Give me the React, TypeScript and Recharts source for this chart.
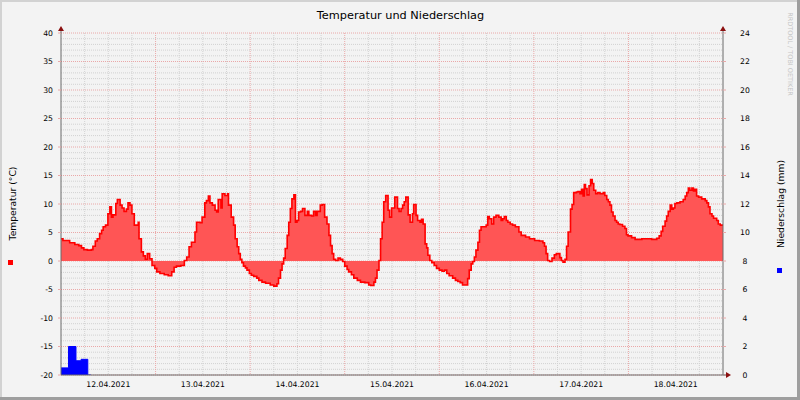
import React from 'react';
import { ComposedChart, Area, XAxis, YAxis, CartesianGrid } from 'recharts';

// ---- data (hours since 12.04.2021 00:00) ----
const dayTickHours = [12, 36, 60, 84, 108, 132, 156];
const dayLabels = ['12.04.2021', '13.04.2021', '14.04.2021', '15.04.2021', '16.04.2021', '17.04.2021', '18.04.2021'];
const tempTicks = [-20, -15, -10, -5, 0, 5, 10, 15, 20, 25, 30, 35, 40];
const rainTicks = [0, 2, 4, 6, 8, 10, 12, 14, 16, 18, 20, 22, 24];
const tempMinorGrid = [-19, -18, -17, -16, -14, -13, -12, -11, -9, -8, -7, -6, -4, -3, -2, -1, 1, 2, 3, 4, 6, 7, 8, 9, 11, 12, 13, 14, 16, 17, 18, 19, 21, 22, 23, 24, 26, 27, 28, 29, 31, 32, 33, 34, 36, 37, 38, 39];
const hourMinorGrid = [6, 12, 18, 30, 36, 42, 54, 60, 66, 78, 84, 90, 102, 108, 114, 126, 132, 138, 150, 156, 162];
const hourMajorGrid = [24, 48, 72, 96, 120, 144];

const tempHours = [
  0, 0.5, 2.2, 3.5, 4.5, 5.2, 5.8, 6.7, 7.7, 8.1, 8.7, 9.2, 9.8, 10.3, 10.7, 11.3, 11.9, 12.4, 12.8, 13.2,
  13.9, 14.3, 15.0, 15.5, 16.0, 16.6, 17.0, 17.5, 18.0, 18.6, 19.6, 19.8, 20.4, 20.9, 21.4, 21.9, 22.5, 23.1, 23.8, 24.3,
  25.1, 26.2, 27.2, 28.1, 28.7, 29.3, 30.4, 31.3, 31.9, 32.5, 33.1, 34.0, 34.4, 35.3, 35.8, 36.5, 36.9, 37.4, 37.8, 38.4,
  39.1, 39.5, 39.9, 40.6, 40.9, 41.6, 42.3, 42.5, 43.2, 43.8, 44.2, 44.7, 45.1, 45.5, 45.9, 46.3, 46.8, 47.2, 47.8, 48.3,
  48.9, 49.7, 50.2, 51.0, 51.9, 53.1, 54.0, 54.8, 55.2, 55.7, 56.1, 56.5, 56.9, 57.4, 57.8, 58.2, 58.6, 59.1, 59.5, 59.9,
  60.3, 60.8, 61.3, 61.9, 62.5, 62.9, 63.6, 64.1, 64.6, 65.0, 65.8, 66.3, 66.9, 67.5, 68.0, 68.4, 68.8, 69.2, 69.7, 70.3,
  70.9, 71.5, 72.0, 72.6, 73.0, 73.7, 74.3, 75.2, 76.0, 77.1, 78.1, 78.6, 79.4, 79.8, 80.2, 80.7, 81.1, 81.5, 81.9, 82.4,
  83.0, 83.4, 83.9, 84.7, 85.4, 85.8, 86.3, 86.7, 87.1, 87.5, 88.1, 88.6, 89.2, 89.5, 90.1, 90.5, 91.1, 91.5, 91.9, 92.4,
  92.8, 93.1, 93.6, 94.1, 94.7, 95.3, 96.0, 96.7, 97.3, 97.9, 98.5, 99.4, 100.1, 100.7, 101.3, 101.9, 103.2, 103.6, 104.1, 104.5,
  104.9, 105.3, 105.8, 106.2, 106.6, 107.9, 108.3, 108.7, 109.3, 109.8, 110.4, 111.1, 111.7, 112.1, 112.5, 113.0, 113.4, 114.0, 114.6, 115.3,
  116.2, 116.8, 117.9, 118.9, 120.2, 121.4, 122.3, 122.7, 123.1, 123.5, 124.0, 124.6, 125.2, 125.7, 126.6, 127.0, 127.4, 127.9, 128.3, 128.7,
  129.3, 129.7, 130.1, 130.8, 131.2, 131.7, 132.1, 132.5, 132.8, 133.1, 133.5, 134.0, 134.4, 134.8, 135.2, 135.7, 136.2, 136.8, 137.6, 138.0,
  138.5, 138.9, 139.3, 139.7, 140.1, 140.6, 141.0, 141.4, 141.8, 142.5, 143.1, 143.5, 143.9, 144.8, 145.7, 147.4, 149.9, 151.2, 151.8, 152.3,
  152.7, 153.3, 153.7, 154.1, 154.6, 155.0, 155.4, 155.8, 156.3, 157.1, 157.9, 158.4, 158.8, 159.2, 159.6, 160.1, 160.5, 160.9, 161.3, 161.8,
  162.6, 163.5, 163.9, 164.3, 164.7, 165.2, 165.6, 166.4, 166.8, 167.3, 168,
];
const tempValues = [
  3.9, 3.6, 3.2, 2.9, 2.7, 2.3, 2.0, 1.9, 2.0, 2.6, 3.5, 3.9, 4.8, 5.4, 6.0, 6.3, 8.3, 9.5, 7.7, 8.1,
  10.1, 10.8, 9.8, 9.3, 8.7, 9.1, 10.2, 9.8, 8.3, 6.3, 6.8, 3.9, 1.6, 0.9, 0.3, 1.3, 0.4, -0.8, -1.3, -1.9,
  -2.2, -2.4, -2.6, -1.9, -1.1, -0.9, -0.8, 0.1, 0.7, 2.5, 3.3, 5.1, 6.8, 6.7, 7.7, 10.2, 10.6, 11.4, 10.2, 9.8,
  8.9, 8.6, 10.8, 9.3, 11.8, 11.5, 11.8, 9.8, 7.7, 6.3, 3.9, 2.5, 1.3, 0.3, -0.3, -0.9, -1.2, -1.6, -2.2, -2.5,
  -2.7, -3.0, -3.4, -3.7, -3.9, -4.2, -4.4, -4.0, -3.0, -1.6, -0.5, 0.5, 2.2, 4.5, 6.8, 9.2, 10.9, 11.6, 6.8, 7.1,
  8.6, 8.7, 9.2, 8.0, 8.7, 8.0, 7.9, 8.7, 8.0, 8.7, 9.8, 9.9, 7.7, 6.5, 4.5, 2.7, 1.3, 0.3, 0.1, 0.5,
  0.3, -0.1, -0.9, -1.5, -1.9, -2.4, -3.0, -3.4, -3.7, -3.8, -4.2, -4.3, -3.7, -3.0, -1.6, 0.1, 3.9, 6.8, 10.4, 11.5,
  8.9, 7.7, 9.3, 11.2, 9.2, 8.7, 9.2, 9.8, 10.4, 11.2, 8.1, 6.8, 8.3, 9.9, 8.0, 7.1, 6.8, 7.3, 6.5, 3.0,
  2.3, 1.0, 0.1, -0.3, -0.8, -1.3, -1.6, -1.8, -1.6, -2.2, -2.6, -3.0, -3.4, -3.6, -3.8, -4.2, -3.1, -1.6, -0.5, -0.1,
  0.7, 1.9, 3.3, 5.4, 6.0, 6.3, 7.8, 7.4, 6.5, 7.7, 8.0, 7.7, 7.1, 7.4, 7.8, 7.1, 6.8, 6.5, 6.3, 6.0,
  5.1, 4.5, 4.2, 3.9, 3.6, 3.5, 3.2, 2.6, 1.3, 0.1, -0.1, 0.5, 1.1, 1.3, 0.6, 0.1, -0.2, 0.3, 2.6, 5.1,
  9.1, 9.9, 12.0, 12.1, 12.2, 11.8, 12.6, 11.4, 13.4, 12.7, 11.6, 13.2, 14.3, 13.6, 12.4, 11.8, 12.0, 11.8, 12.0, 11.5,
  10.8, 10.4, 9.8, 8.6, 7.9, 7.1, 6.8, 6.5, 6.4, 6.1, 5.7, 4.6, 4.4, 4.1, 3.8, 3.9, 3.8, 4.0, 4.4, 5.2,
  6.1, 7.0, 7.9, 8.7, 9.8, 9.1, 9.3, 10.1, 10.2, 10.4, 10.8, 11.4, 12.0, 12.8, 12.4, 12.8, 12.3, 12.6, 11.4, 11.2,
  10.9, 10.6, 10.2, 9.5, 8.3, 7.9, 7.5, 7.1, 6.5, 6.3, 6.3,
];

const rainHours = [0, 1.9, 3.8, 5.1, 6.8, 7.6];
const rainValues = [0.5, 2.0, 1.0, 1.1, 0, 0];

const tempData = tempHours.map((h, i) => ({ h, t: tempValues[i] }));
const rainData = rainHours.map((h, i) => ({ h, p: rainValues[i] }));

const FONT = '"DejaVu Sans", sans-serif';
const AXIS_COLOR = '#6a6a6a';
const ARROW_COLOR = '#8b1010';
const MINOR_GRID = '#d2d2d2';
const MAJOR_GRID = '#eaa8a8';

const RightTick = (props: any) => {
  const { x, y, payload } = props;
  return (
    <text x={x} y={y} dy="0.355em" textAnchor="middle" fontSize={7.7} fontFamily={FONT} fill="#000">
      {payload.value}
    </text>
  );
};

export default function App() {
  return (
    <div
      style={{
        position: 'absolute',
        left: 0,
        top: 0,
        width: 800,
        height: 400,
        background: '#f3f3f3',
        fontFamily: FONT,
      }}
    >
      <svg width={800} height={400} style={{ position: 'absolute', left: 0, top: 0 }}>
        <rect x={0} y={0} width={800} height={2} fill="#d2d2d2" />
        <rect x={0} y={0} width={2} height={400} fill="#d2d2d2" />
        <rect x={0} y={397} width={800} height={3} fill="#9e9e9e" />
        <rect x={797} y={0} width={3} height={400} fill="#9e9e9e" />
      </svg>
      <div style={{ position: 'absolute', left: 0, top: 0 }}>
        <ComposedChart width={800} height={400} margin={{ top: 33, right: 0, bottom: 0, left: 0 }}>
          <CartesianGrid
            yAxisId="left"
            vertical={false}
            horizontalValues={tempMinorGrid}
            stroke={MINOR_GRID}
            strokeDasharray="1 1"
          />
          <CartesianGrid
            yAxisId="left"
            horizontal={false}
            verticalValues={hourMinorGrid}
            stroke={MINOR_GRID}
            strokeDasharray="1 1"
          />
          <CartesianGrid
            yAxisId="left"
            vertical={false}
            horizontalValues={tempTicks}
            stroke={MAJOR_GRID}
            strokeDasharray="1 1"
          />
          <CartesianGrid
            yAxisId="left"
            horizontal={false}
            verticalValues={hourMajorGrid}
            stroke={MAJOR_GRID}
            strokeDasharray="1 1"
          />
          <XAxis
            dataKey="h"
            type="number"
            domain={[0, 168]}
            ticks={dayTickHours}
            tickFormatter={(v: number) => dayLabels[dayTickHours.indexOf(v)] ?? ''}
            tickLine={false}
            tickSize={0}
            tickMargin={7}
            height={25}
            axisLine={{ stroke: AXIS_COLOR }}
            tick={{ fontSize: 7.7, fontFamily: FONT, fill: '#000' }}
            interval={0}
            allowDataOverflow
          />
          <YAxis
            yAxisId="left"
            type="number"
            domain={[-20, 40]}
            ticks={tempTicks}
            interval={0}
            width={61}
            tickSize={3}
            tickMargin={5}
            tickLine={{ stroke: MAJOR_GRID }}
            axisLine={{ stroke: AXIS_COLOR }}
            tick={{ fontSize: 7.7, fontFamily: FONT, fill: '#000' }}
            allowDataOverflow
          />
          <YAxis
            yAxisId="right"
            orientation="right"
            type="number"
            domain={[0, 24]}
            ticks={rainTicks}
            interval={0}
            width={77}
            tickSize={3}
            tickMargin={19}
            tickLine={{ stroke: MAJOR_GRID }}
            axisLine={{ stroke: AXIS_COLOR }}
            tick={<RightTick />}
            allowDataOverflow
          />
          <Area
            yAxisId="left"
            data={tempData}
            dataKey="t"
            type="stepAfter"
            baseValue={0}
            stroke="#ff0000"
            strokeWidth={1.6}
            fill="#ff5555"
            fillOpacity={1}
            isAnimationActive={false}
            dot={false}
            activeDot={false}
          />
          <Area
            yAxisId="right"
            data={rainData}
            dataKey="p"
            type="stepAfter"
            baseValue={0}
            stroke="#0000ff"
            strokeWidth={1}
            fill="#0000ff"
            fillOpacity={1}
            isAnimationActive={false}
            dot={false}
            activeDot={false}
          />
        </ComposedChart>
      </div>
      <svg width={800} height={400} style={{ position: 'absolute', left: 0, top: 0, pointerEvents: 'none' }}>
        <text x={400.5} y={19} textAnchor="middle" fontSize={11.3} fontFamily={FONT} fill="#000">
          Temperatur und Niederschlag
        </text>
        <text
          x={12}
          y={203.5}
          textAnchor="middle"
          dominantBaseline="central"
          fontSize={9.2}
          fontFamily={FONT}
          fill="#000"
          transform="rotate(-90 12 203.5)"
        >
          Temperatur (°C)
        </text>
        <text
          x={780}
          y={204}
          textAnchor="middle"
          dominantBaseline="central"
          fontSize={9.2}
          fontFamily={FONT}
          fill="#000"
          transform="rotate(-90 780 204)"
        >
          Niederschlag (mm)
        </text>
        <text
          x={790}
          y={54}
          textAnchor="middle"
          dominantBaseline="central"
          fontSize={6.5}
          fontFamily={FONT}
          fill="#c6c6c6"
          transform="rotate(90 790 54)"
        >
          RRDTOOL / TOBI OETIKER
        </text>
        <rect x={8} y={260} width={5} height={5} fill="#ff0000" />
        <rect x={777} y={268} width={5} height={5} fill="#0000ff" />
        {/* axis extensions and arrows */}
        <line x1={61} y1={33} x2={61} y2={30} stroke={AXIS_COLOR} />
        <polygon points="61,26 58,31 64,31" fill={ARROW_COLOR} />
        <line x1={723} y1={33} x2={723} y2={30} stroke={AXIS_COLOR} />
        <polygon points="723,26 720,31 726,31" fill={ARROW_COLOR} />
        <line x1={723} y1={375} x2={727} y2={375} stroke={AXIS_COLOR} />
        <polygon points="731,375 726,372 726,378" fill={ARROW_COLOR} />
      </svg>
    </div>
  );
}
